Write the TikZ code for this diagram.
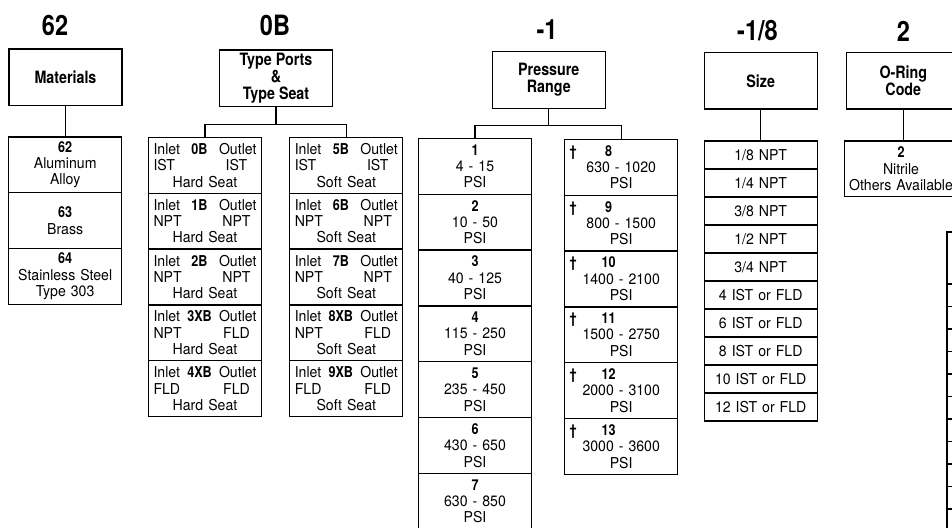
\documentclass[tikz,border=0pt]{standalone}
\usepackage{fontspec}
\setmainfont{TeX Gyre Heros}[FakeStretch=0.94]
\newfontfamily\cnd{TeX Gyre Heros}[FakeStretch=0.84]
\usetikzlibrary{positioning}

\newcommand{\code}[1]{{\cnd\bfseries #1}}
\newcommand{\portcell}[4]{\makebox[\linewidth]{Inlet\hfill\code{#1}\hfill Outlet}\\
	\makebox[\linewidth]{\makebox[2.2em][l]{#2}\hfill\makebox[2.67em]{#3}}\\#4 Seat}
\newcommand{\psicell}[2]{\code{#1}\\#2\\PSI}
\newcommand{\dagcell}[2]{\makebox[\linewidth][l]{\code{\textdagger}\hspace{24pt}\makebox[16pt]{\code{#1}}}\\#2\\PSI}

\begin{document}
\begin{tikzpicture}[x=1pt,y=-1pt,
	num/.style={font=\cnd\bfseries\fontsize{28}{30}\selectfont},
	head/.style={draw,line width=1.3pt,outer sep=0pt,minimum width=113,minimum height=56.5,align=center,font=\cnd\bfseries\fontsize{17}{16.7}\selectfont},
	cell/.style={draw,line width=1.3pt,outer sep=0pt,minimum width=113,minimum height=55.8,text width=103,align=center,inner sep=0pt,font=\fontsize{15}{16.3}\selectfont},
	slot/.style={cell,minimum height=28},
	blank/.style={draw,line width=1.3pt,outer sep=0pt,minimum width=113,minimum height=22.5,inner sep=0pt},
	link/.style={line width=1.3pt}]
		\useasboundingbox[fill=white] (0,0) rectangle (952,527);
		\clip (0,0) rectangle (952,527);
		
		% code digits on top
		\node[num] (n62) at (55,25) {62};
		\node[num] (n0B) at (275,25) {0B};
		\node[num] (n1) at (547,30) {-1};
		\node[num] (n18) at (757.5,31) {-1/8};
		\node[num] (n2) at (903.3,31) {2};
		
		% heading boxes
		\node[head] (mat) at (65.5,77.3) {Materials};
		\node[head] (ports) at (276,78.3) {Type Ports\\\&\\Type Seat};
		\node[head] (press) at (548.8,80) {Pressure\\Range};
		\node[head] (size) at (760.7,80.8) {Size};
		\node[head] (oring) at (903.3,80.8) {O-Ring\\Code};
		
		% materials
		\node[cell,anchor=north] (mat1) at (65.2,137) {\code{62}\\Aluminum\\Alloy};
		\node[cell,below=0pt of mat1] (mat2) {\code{63}\\Brass};
		\node[cell,below=0pt of mat2] (mat3) {\code{64}\\Stainless Steel\\Type 303};
		
		% ports and seat
		\node[cell,anchor=north] (pA1) at (205,137.5) {\portcell{0B}{IST}{IST}{Hard}};
		\node[cell,below=0pt of pA1] (pA2) {\portcell{1B}{NPT}{NPT}{Hard}};
		\node[cell,below=0pt of pA2] (pA3) {\portcell{2B}{NPT}{NPT}{Hard}};
		\node[cell,below=0pt of pA3] (pA4) {\portcell{3XB}{NPT}{FLD}{Hard}};
		\node[cell,below=0pt of pA4] (pA5) {\portcell{4XB}{FLD}{FLD}{Hard}};
		
		\node[cell,anchor=north] (pB1) at (346.3,137.5) {\portcell{5B}{IST}{IST}{Soft}};
		\node[cell,below=0pt of pB1] (pB2) {\portcell{6B}{NPT}{NPT}{Soft}};
		\node[cell,below=0pt of pB2] (pB3) {\portcell{7B}{NPT}{NPT}{Soft}};
		\node[cell,below=0pt of pB3] (pB4) {\portcell{8XB}{NPT}{FLD}{Soft}};
		\node[cell,below=0pt of pB4] (pB5) {\portcell{9XB}{FLD}{FLD}{Soft}};
		
		% pressure
		\node[cell,anchor=north] (qA1) at (475,138.5) {\psicell{1}{4 - 15}};
		\node[cell,below=0pt of qA1] (qA2) {\psicell{2}{10 - 50}};
		\node[cell,below=0pt of qA2] (qA3) {\psicell{3}{40 - 125}};
		\node[cell,below=0pt of qA3] (qA4) {\psicell{4}{115 - 250}};
		\node[cell,below=0pt of qA4] (qA5) {\psicell{5}{235 - 450}};
		\node[cell,below=0pt of qA5] (qA6) {\psicell{6}{430 - 650}};
		\node[cell,below=0pt of qA6] (qA7) {\psicell{7}{630 - 850}};
		
		\node[cell,anchor=north] (qB1) at (621.2,139.5) {\dagcell{8}{630 - 1020}};
		\node[cell,below=0pt of qB1] (qB2) {\dagcell{9}{800 - 1500}};
		\node[cell,below=0pt of qB2] (qB3) {\dagcell{10}{1400 - 2100}};
		\node[cell,below=0pt of qB3] (qB4) {\dagcell{11}{1500 - 2750}};
		\node[cell,below=0pt of qB4] (qB5) {\dagcell{12}{2000 - 3100}};
		\node[cell,below=0pt of qB5] (qB6) {\dagcell{13}{3000 - 3600}};
		
		% size
		\node[slot,anchor=north] (sz1) at (760.7,141) {1/8 NPT};
		\node[slot,below=0pt of sz1] (sz2) {1/4 NPT};
		\node[slot,below=0pt of sz2] (sz3) {3/8 NPT};
		\node[slot,below=0pt of sz3] (sz4) {1/2 NPT};
		\node[slot,below=0pt of sz4] (sz5) {3/4 NPT};
		\node[slot,below=0pt of sz5] (sz6) {4 IST or FLD};
		\node[slot,below=0pt of sz6] (sz7) {6 IST or FLD};
		\node[slot,below=0pt of sz7] (sz8) {8 IST or FLD};
		\node[slot,below=0pt of sz8] (sz9) {10 IST or FLD};
		\node[slot,below=0pt of sz9] (sz10) {12 IST or FLD};
		
		% o-ring
		\node[cell,anchor=north,text width=108] (ring1) at (901,141) {\code{2}\\Nitrile\\Others Available};
		
		% next column, cut by the page edge
		\node[blank,anchor=north west,minimum height=52] (nx0) at (947,232) {};
		\node[blank,below=0pt of nx0] (nx1) {};
		\node[blank,below=0pt of nx1] (nx2) {};
		\node[blank,below=0pt of nx2] (nx3) {};
		\node[blank,below=0pt of nx3] (nx4) {};
		\node[blank,below=0pt of nx4] (nx5) {};
		\node[blank,below=0pt of nx5] (nx6) {};
		\node[blank,below=0pt of nx6] (nx7) {};
		\node[blank,below=0pt of nx7] (nx8) {};
		\node[blank,below=0pt of nx8] (nx9) {};
		\node[blank,below=0pt of nx9] (nx10) {};
		\node[blank,below=0pt of nx10] (nx11) {};
		
		% connectors
		\draw[link] (mat.south) -- (mat.south |- mat1.north);
		\draw[link] (ports.south) -- ++(0,18) coordinate (pfork);
		\draw[link] (pA1.north) |- (pfork) -| (pB1.north);
		\draw[link] (press.south) -- ++(0,17) coordinate (qfork);
		\draw[link] (qA1.north) |- (qfork) -| (qB1.north);
		\draw[link] (size.south) -- (size.south |- sz1.north);
		\draw[link] (oring.south) -- (oring.south |- ring1.north);
\end{tikzpicture}
\end{document}
